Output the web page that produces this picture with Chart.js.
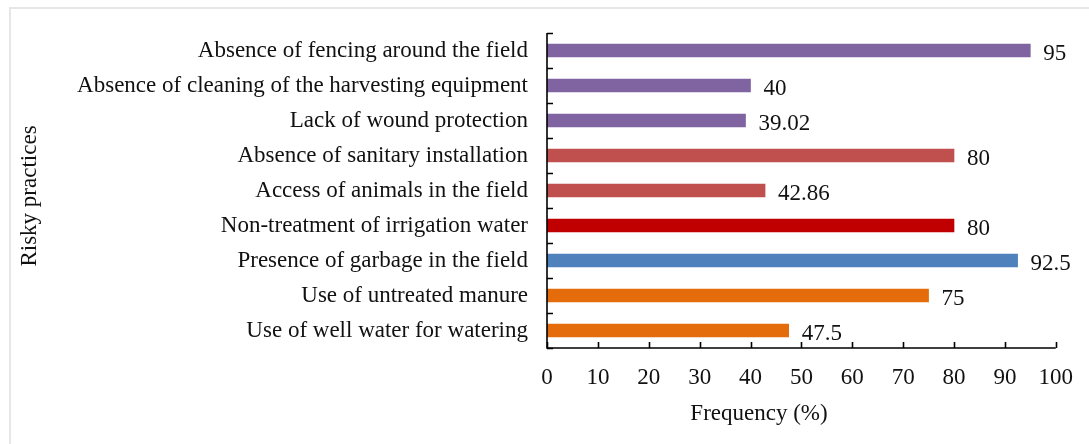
<!DOCTYPE html>
<html>
<head>
<meta charset="utf-8">
<script src="https://cdn.jsdelivr.net/npm/chart.js@4/dist/chart.umd.min.js"></script>
<style>
  html, body { margin: 0; padding: 0; background: #fff; overflow: hidden; }
  #wrap { position: absolute; left: 0; top: 0; width: 1089px; height: 444px; }
  #frame { position: absolute; left: 9px; top: 7px; width: 1100px; height: 460px; border: 2px solid #e6e6e6; box-sizing: border-box; }
  canvas { position: absolute; left: 0; top: 0; }
</style>
</head>
<body>
<div id="wrap">
  <div id="frame"></div>
  <canvas id="c" width="1089" height="444"></canvas>
</div>
<script>
const categories = [
  "Absence of fencing around the field",
  "Absence of cleaning of the harvesting equipment",
  "Lack of wound protection",
  "Absence of sanitary installation",
  "Access of animals in the field",
  "Non-treatment of irrigation water",
  "Presence of garbage in the field",
  "Use of untreated manure",
  "Use of well water for watering"
];
const frequencies = [95, 40, 39.02, 80, 42.86, 80, 92.5, 75, 47.5];
const barColors = ["#8064A2", "#8064A2", "#8064A2", "#C0504D", "#C0504D", "#C00000", "#4F81BD", "#E46C0A", "#E46C0A"];
const xTicks = [0, 10, 20, 30, 40, 50, 60, 70, 80, 90, 100];
const xTitle = "Frequency (%)";
const yTitle = "Risky practices";

const FONT = "'Liberation Serif', 'Times New Roman', serif";
const FS = 23;

const axesPlugin = {
  id: 'axesPlugin',
  afterDraw(chart) {
    const ctx = chart.ctx;
    const a = chart.chartArea;
    const xs = chart.scales.x, ys = chart.scales.y;
    ctx.save();
    ctx.strokeStyle = '#000';
    ctx.lineWidth = 1.6;
    // axis lines
    ctx.beginPath();
    ctx.moveTo(a.left, a.top);
    ctx.lineTo(a.left, a.bottom);
    ctx.lineTo(a.right, a.bottom);
    ctx.stroke();
    // x ticks (inward)
    ctx.beginPath();
    xTicks.forEach(v => {
      const px = Math.round(xs.getPixelForValue(v)) + 0.5;
      ctx.moveTo(px, a.bottom);
      ctx.lineTo(px, a.bottom - 6);
    });
    // y ticks at category boundaries (inward)
    const n = categories.length;
    const step = ys.getPixelForValue(1) - ys.getPixelForValue(0);
    for (let i = 0; i <= n; i++) {
      const py = Math.round(ys.getPixelForValue(i) - step / 2) + 0.5;
      ctx.moveTo(a.left, py);
      ctx.lineTo(a.left + 6, py);
    }
    ctx.stroke();
    // data labels
    ctx.fillStyle = '#111';
    ctx.font = FS + 'px ' + FONT;
    ctx.textAlign = 'left';
    ctx.textBaseline = 'middle';
    const meta = chart.getDatasetMeta(0);
    meta.data.forEach((bar, i) => {
      ctx.fillText(String(frequencies[i]), bar.x + 13, bar.y + 3);
    });
    // axis titles
    ctx.textAlign = 'center';
    ctx.fillText(xTitle, 759, 414);
    ctx.save();
    ctx.translate(30, 196);
    ctx.rotate(-Math.PI / 2);
    ctx.fillText(yTitle, 0, 0);
    ctx.restore();
    ctx.restore();
  }
};

new Chart(document.getElementById('c'), {
  type: 'bar',
  data: {
    labels: categories,
    datasets: [{
      data: frequencies,
      backgroundColor: barColors,
      borderWidth: 0,
      barThickness: 13
    }]
  },
  options: {
    indexAxis: 'y',
    responsive: false,
    animation: false,
    devicePixelRatio: 1,
    layout: { padding: { top: 33, right: 32, left: 0, bottom: 0 } },
    plugins: { legend: { display: false }, tooltip: { enabled: false } },
    scales: {
      x: {
        type: 'linear',
        min: 0, max: 100,
        afterFit(s) { s.height = 96; },
        afterBuildTicks(s) { s.ticks = xTicks.map(v => ({ value: v })); },
        grid: { display: false, drawTicks: false },
        border: { display: false },
        ticks: { color: '#111', font: { family: FONT, size: FS }, padding: 16, maxRotation: 0, autoSkip: false }
      },
      y: {
        type: 'category',
        afterFit(s) { s.width = 547; },
        grid: { display: false, drawTicks: false, offset: true },
        border: { display: false },
        ticks: { color: '#111', font: { family: FONT, size: FS }, padding: 19, autoSkip: false }
      }
    }
  },
  plugins: [axesPlugin]
});
</script>
</body>
</html>
